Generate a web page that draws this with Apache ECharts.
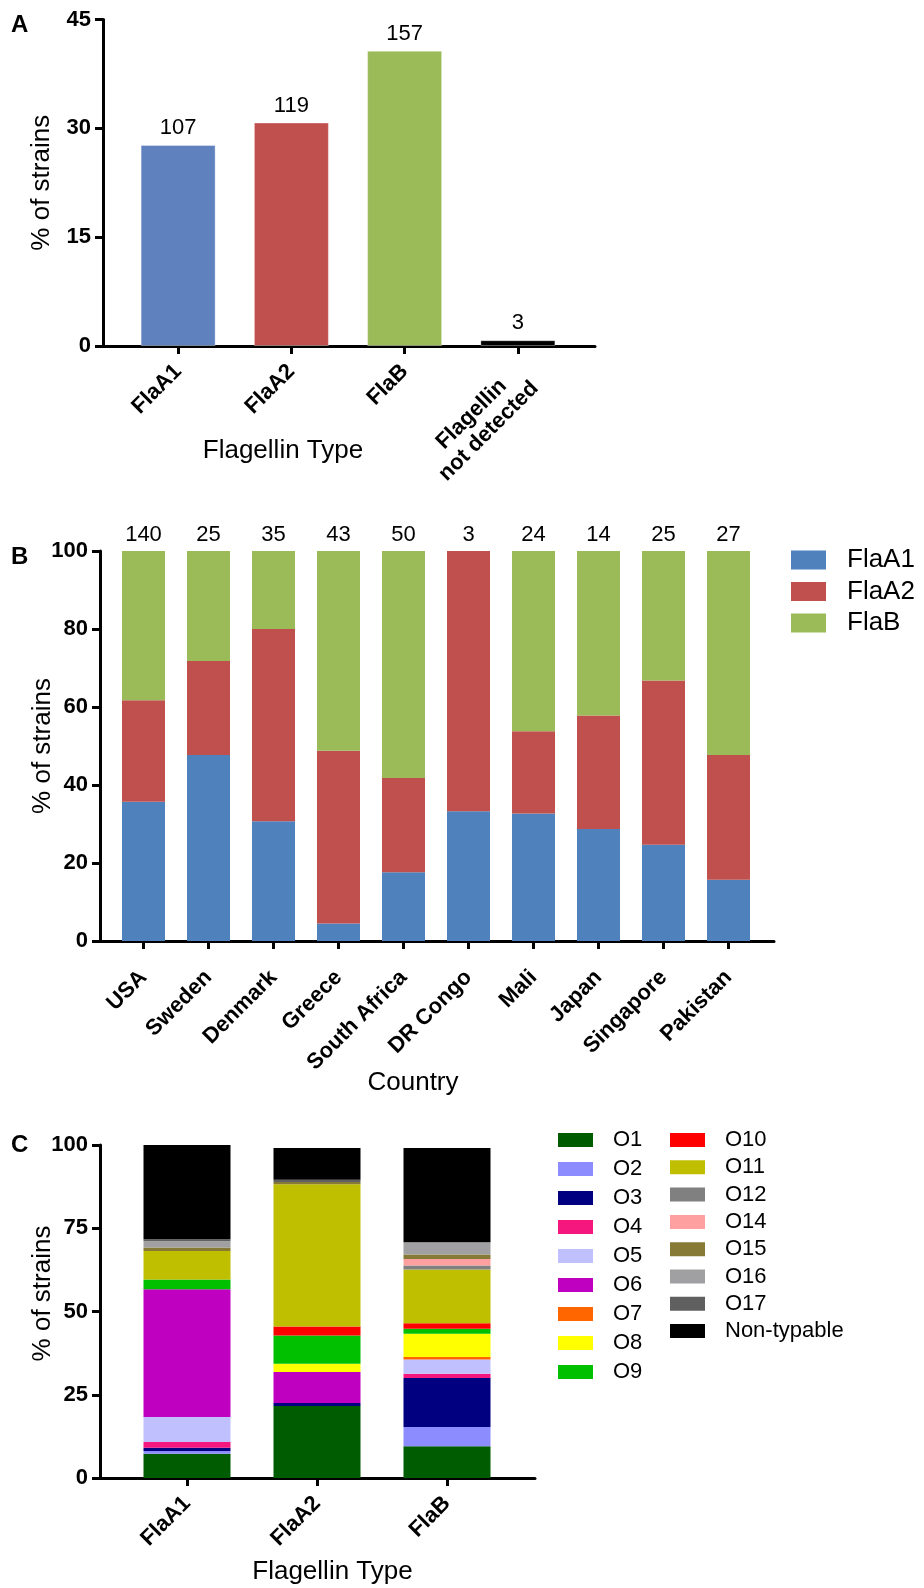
<!DOCTYPE html>
<html>
<head>
<meta charset="utf-8">
<script src="https://cdn.jsdelivr.net/npm/echarts@6/dist/echarts.min.js"></script>
<style>html,body{margin:0;padding:0;background:#fff}#c{width:924px;height:1588px}</style>
</head>
<body>
<div id="c"></div>
<script>
// ---------- Panel A data ----------
const aCategories = ['FlaA1', 'FlaA2', 'FlaB', 'Flagellin\nnot detected'];
const aPercent = [27.7, 30.8, 40.7, 0.8];
const aCounts = [107, 119, 157, 3];
const aTicks = [0, 15, 30, 45];

// ---------- Panel B data ----------
const countries = ['USA', 'Sweden', 'Denmark', 'Greece', 'South Africa', 'DR Congo', 'Mali', 'Japan', 'Singapore', 'Pakistan'];
const countryCounts = [140, 25, 35, 43, 50, 3, 24, 14, 25, 27];
const bFlaA1 = [35.7, 47.7, 30.7, 4.5, 17.6, 33.3, 32.7, 28.7, 24.7, 15.7];
const bFlaA2 = [26.0, 24.1, 49.3, 44.3, 24.2, 66.7, 21.1, 29.1, 42.1, 32.0];
const bFlaB = [38.3, 28.2, 20.0, 51.2, 58.2, 0, 46.2, 42.2, 33.2, 52.3];
const bTicks = [0, 20, 40, 60, 80, 100];

// ---------- Panel C data ----------
const cCategories = ['FlaA1', 'FlaA2', 'FlaB'];
const serotypes = ['O1', 'O2', 'O3', 'O4', 'O5', 'O6', 'O7', 'O8', 'O9', 'O10', 'O11', 'O12', 'O14', 'O15', 'O16', 'O17', 'Non-typable'];
const cFlaA1 = [7.3, 0.8, 1.0, 1.7, 7.5, 38.4, 0, 0, 2.9, 0, 8.6, 0, 0, 1.0, 1.9, 0.6, 28.3];
const cFlaA2 = [21.6, 0, 0.9, 0, 0, 9.3, 0, 2.5, 8.5, 2.7, 42.7, 0, 0, 0.7, 0, 0.7, 9.5];
const cFlaB = [9.5, 5.8, 14.7, 1.3, 4.3, 0, 0.7, 7.0, 1.5, 1.7, 16.1, 1.2, 2.0, 1.3, 3.7, 0, 28.3];
const cTicks = [0, 25, 50, 75, 100];

// ---------- styles ----------
const FONT = '"Liberation Sans", Arial, Helvetica, sans-serif';
const aColors = ['#5F82BE', '#C0504D', '#9BBB59', '#000000'];
const bColors = ['#4F81BD', '#C0504D', '#9BBB59'];
const serotypeColors = ['#005C00', '#8C8CFF', '#000080', '#F5167E', '#C0C0FF', '#C000C0', '#FF6600', '#FFFF00', '#00C000',
  '#FF0000', '#BFBF00', '#808080', '#FFA0A0', '#877A36', '#A0A0A2', '#606060', '#000000'];

const chart = echarts.init(document.getElementById('c'), null, {renderer: 'canvas'});

const axisLineStyle = {color: '#000', width: 3};
function outerX(gridIndex, name, nameGap, namePadding) {
  return {
    gridIndex, type: 'category', data: [''],
    axisLine: {show: true, lineStyle: axisLineStyle},
    axisTick: {show: false}, axisLabel: {show: false}, splitLine: {show: false},
    name, nameLocation: 'middle', nameGap, nameMoveOverlap: false,
    nameTextStyle: {fontFamily: FONT, fontSize: 26, color: '#000', padding: namePadding}
  };
}
function outerY(gridIndex, ticks, nameGap, namePadding) {
  return {
    gridIndex, type: 'value', min: ticks[0], max: ticks[ticks.length - 1], interval: ticks[1] - ticks[0],
    axisLine: {show: true, lineStyle: axisLineStyle},
    axisTick: {show: true, length: 8, lineStyle: {color: '#000', width: 3}},
    axisLabel: {fontFamily: FONT, fontSize: 22, fontWeight: 'bold', color: '#000', margin: 12},
    splitLine: {show: false},
    name: '% of strains', nameLocation: 'middle', nameGap, nameMoveOverlap: false,
    nameTextStyle: {fontFamily: FONT, fontSize: 26, color: '#000', padding: namePadding}
  };
}
function innerX(gridIndex, data, margin) {
  return {
    gridIndex, type: 'category', data,
    axisLine: {show: false},
    axisTick: {show: true, alignWithLabel: true, length: 8, lineStyle: {color: '#000', width: 3}},
    axisLabel: {
      interval: 0, rotate: 45, margin, fontFamily: FONT, fontSize: 22, fontWeight: 'bold', color: '#000',
      lineHeight: 24,
      // multi-line label: first line anchored at the tick like single-line labels, lines centred
      formatter: v => v.indexOf('\n') >= 0 ? '{c| }\n' + v.split('\n').map(s => '{c|' + s + '}').join('\n') : v,
      rich: {c: {align: 'center', fontFamily: FONT, fontSize: 22, fontWeight: 'bold', color: '#000', lineHeight: 24}}
    },
    splitLine: {show: false}
  };
}
function innerY(gridIndex, ticks) {
  return {gridIndex, type: 'value', min: ticks[0], max: ticks[ticks.length - 1], show: false};
}

const series = [];
// Panel A
series.push({
  name: 'Strains', type: 'bar', xAxisIndex: 1, yAxisIndex: 1, barWidth: 75,
  data: aPercent.map((v, i) => ({value: v, itemStyle: {color: aColors[i]}})),
  itemStyle: {borderColor: 'rgba(255,255,255,0.35)', borderWidth: 1},
  label: {show: true, position: 'top', distance: 6, fontFamily: FONT, fontSize: 22, color: '#000',
    formatter: p => String(aCounts[p.dataIndex])}
});
// Panel B
[['FlaA1', bFlaA1], ['FlaA2', bFlaA2], ['FlaB', bFlaB]].forEach(([name, data], i) => {
  const s = {name, type: 'bar', stack: 'b', xAxisIndex: 3, yAxisIndex: 3, barWidth: 43,
    itemStyle: {color: bColors[i]}, data};
  if (i === 2) {
    s.label = {show: true, position: 'top', distance: 5, fontFamily: FONT, fontSize: 22, color: '#000',
      formatter: p => String(countryCounts[p.dataIndex])};
  }
  series.push(s);
});
// Panel C
serotypes.forEach((name, k) => {
  series.push({name, type: 'bar', stack: 'c', xAxisIndex: 5, yAxisIndex: 5, barWidth: 87,
    itemStyle: {color: serotypeColors[k]},
    data: [cFlaA1[k], cFlaA2[k], cFlaB[k]]});
});

const legendText = (size, pad) => ({fontFamily: FONT, fontSize: size, color: '#000', lineHeight: size, padding: [0, 0, 0, pad]});

const option = {
  animation: false,
  backgroundColor: '#fff',
  graphic: [
    {type: 'text', left: 11, top: 13, style: {text: 'A', font: 'bold 24px ' + FONT, fill: '#000'}},
    {type: 'text', left: 11, top: 545, style: {text: 'B', font: 'bold 24px ' + FONT, fill: '#000'}},
    {type: 'text', left: 11, top: 1133, style: {text: 'C', font: 'bold 24px ' + FONT, fill: '#000'}}
  ],
  grid: [
    {left: 103, top: 19.5, width: 492, height: 326.5, outerBoundsMode: 'none'},
    {left: 121.5, top: 19.5, width: 453, height: 326.5, outerBoundsMode: 'none'},
    {left: 100, top: 551, width: 674, height: 390, outerBoundsMode: 'none'},
    {left: 111, top: 551, width: 650, height: 390, outerBoundsMode: 'none'},
    {left: 100, top: 1145, width: 435, height: 333, outerBoundsMode: 'none'},
    {left: 122, top: 1145, width: 390, height: 333, outerBoundsMode: 'none'}
  ],
  xAxis: [
    outerX(0, 'Flagellin Type', 92, [0, 132, 0, 0]),
    innerX(1, aCategories, 22),
    outerX(2, 'Country', 129, [0, 48, 0, 0]),
    innerX(3, countries, 33),
    outerX(4, 'Flagellin Type', 81, [0, 0, 0, 30]),
    innerX(5, cCategories, 22)
  ],
  yAxis: [
    outerY(0, aTicks, 48, 0),
    innerY(1, aTicks),
    outerY(2, bTicks, 44, 0),
    innerY(3, bTicks),
    outerY(4, cTicks, 44, [0, 0, 0, 36]),
    innerY(5, cTicks)
  ],
  legend: [
    {data: ['FlaA1', 'FlaA2', 'FlaB'], orient: 'vertical', left: 791, top: 547, padding: 0,
      itemWidth: 35, itemHeight: 19, itemGap: 5.5, icon: 'rect', selectedMode: false, textStyle: legendText(26, 16)},
    {data: serotypes.slice(0, 9), orient: 'vertical', left: 558, top: 1129, padding: 0,
      itemWidth: 35, itemHeight: 14, itemGap: 7, icon: 'rect', selectedMode: false, textStyle: legendText(22, 15)},
    {data: serotypes.slice(9), orient: 'vertical', left: 670, top: 1129, padding: 0,
      itemWidth: 35, itemHeight: 14, itemGap: 5.3, icon: 'rect', selectedMode: false, textStyle: legendText(22, 15)}
  ],
  series
};
chart.setOption(option);
</script>
</body>
</html>
